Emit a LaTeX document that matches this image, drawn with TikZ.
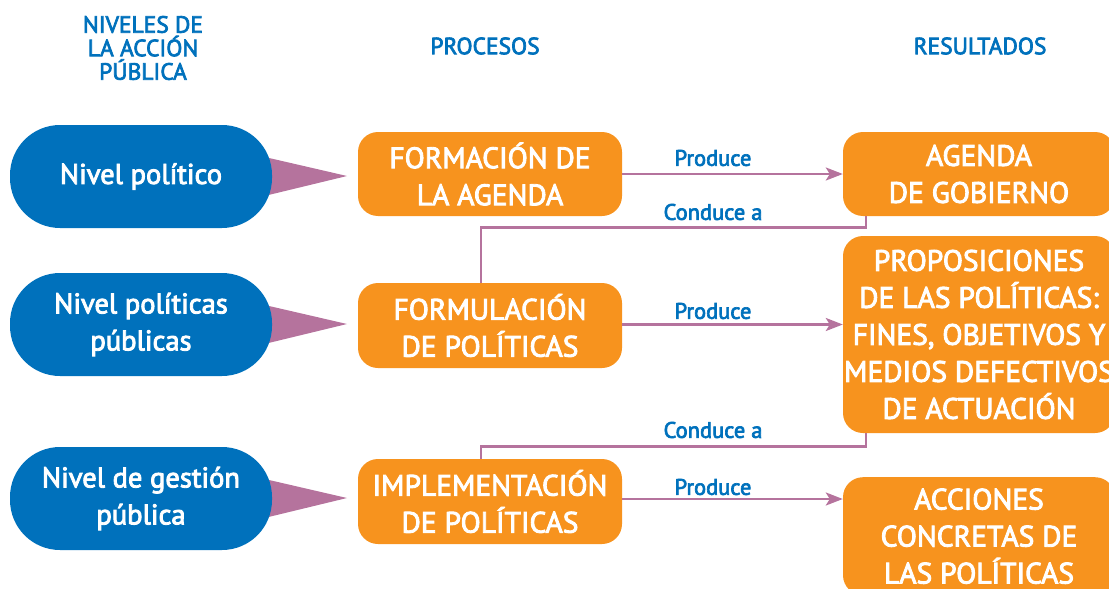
\documentclass[tikz,border=0pt]{standalone}
\usepackage{fontspec}
\setmainfont{PT Sans}[BoldFont={PT Sans},BoldFeatures={FakeBold=3}]
\usetikzlibrary{arrows.meta,backgrounds}
\definecolor{cblue}{HTML}{0071BC}
\definecolor{corange}{HTML}{F7931E}
\definecolor{cmauve}{HTML}{B5739D}
\tikzset{
  pill/.style={fill=cblue,text=white,rounded corners=50pt,minimum width=262pt,minimum height=103pt,align=center,font=\bfseries\fontsize{28.5}{37}\selectfont,inner sep=0pt},
  obox/.style={fill=corange,text=white,rounded corners=20pt,align=center,font=\bfseries\fontsize{29.5}{37}\selectfont,inner sep=0pt},
  head/.style={text=cblue,align=center,font=\bfseries\fontsize{23.5}{23.5}\selectfont},
  lab/.style={text=cblue,font=\bfseries\fontsize{22.5}{24}\selectfont},
  arr/.style={draw=cmauve,line width=2.6pt,-{Stealth[length=17pt,width=13pt,inset=4pt]}},
  conn/.style={draw=cmauve,line width=2.6pt},
  ptr/.style={fill=cmauve}
}
\begin{document}
\begin{tikzpicture}[x=1pt,y=-1pt]
\useasboundingbox (0,0) rectangle (1109,589);
% headers
\node[head] (h1) at (143,48) {NIVELES DE\\LA ACCIÓN\\PÚBLICA};
\node[head] (h2) at (485,46) {PROCESOS};
\node[head] (h3) at (980,46) {RESULTADOS};
% blue level nodes
\node[pill] (b1) at (141,176.5) {Nivel político};
\node[pill] (b2) at (141,324.5) {Nivel políticas\\públicas};
\node[pill] (b3) at (141,498.5) {Nivel de gestión\\pública};
% process boxes
\node[obox,minimum width=264pt,minimum height=84pt] (p1) at (490,174) {FORMACIÓN DE\\LA AGENDA};
\node[obox,minimum width=264pt,minimum height=85pt] (p2) at (490,325.5) {FORMULACIÓN\\DE POLÍTICAS};
\node[obox,minimum width=264pt,minimum height=85pt] (p3) at (490,501.5) {IMPLEMENTACIÓN\\DE POLÍTICAS};
% result boxes
\node[obox,minimum width=272pt,minimum height=84pt] (r1) at (979,174) {AGENDA\\DE GOBIERNO};
\node[obox,minimum width=272pt,minimum height=197pt] (r2) at (979,334.5) {PROPOSICIONES\\DE LAS POLÍTICAS:\\FINES, OBJETIVOS Y\\MEDIOS DEFECTIVOS\\DE ACTUACIÓN};
\node[obox,minimum width=272pt,minimum height=118pt,anchor=north] (r3) at (979,477) {ACCIONES\\CONCRETAS DE\\LAS POLÍTICAS};
% pointers
\begin{scope}[on background layer]
\coordinate (t1) at (347,176);
\coordinate (t2) at (347,324);
\coordinate (t3) at (347,498);
\fill[ptr] ([xshift=-14pt,yshift=-21pt]b1.east) -- (t1) -- ([xshift=-14pt,yshift=21pt]b1.east) -- cycle;
\fill[ptr] ([xshift=-14pt,yshift=-21pt]b2.east) -- (t2) -- ([xshift=-14pt,yshift=21pt]b2.east) -- cycle;
\fill[ptr] ([xshift=-14pt,yshift=-21pt]b3.east) -- (t3) -- ([xshift=-14pt,yshift=21pt]b3.east) -- cycle;
\end{scope}
% produce arrows
\draw[arr] (p1.east) -- (r1.west);
\draw[arr] ([yshift=1pt]p2.east) -- ([yshift=1pt]p2.east -| r2.west);
\draw[arr] ([yshift=2.5pt]p3.east) -- ([yshift=2.5pt]p3.east -| r3.west);
\node[lab] (l1) at (713,158) {Produce};
\node[lab] (l2) at (713,311) {Produce};
\node[lab] (l3) at (713,487) {Produce};
% conduce lines
\draw[conn] ([xshift=23pt]r1.south west) -- ++(0,11) -| ([xshift=123pt]p2.north west);
\draw[conn] ([xshift=23pt]r2.south west) -- ++(0,13) -| ([xshift=123pt]p3.north west);
\node[lab] (c1) at (713,212) {Conduce a};
\node[lab] (c2) at (713,430) {Conduce a};
\end{tikzpicture}
\end{document}
